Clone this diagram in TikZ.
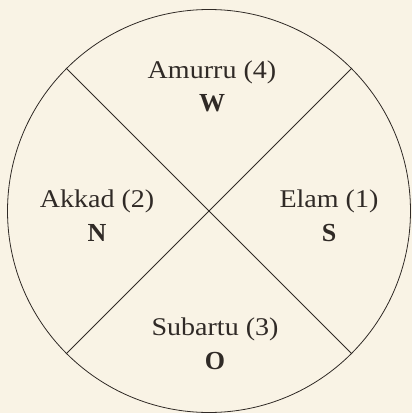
\documentclass[tikz,border=0pt]{standalone}
\usepackage{fontspec}
\setmainfont{Liberation Serif}
\newfontfamily\landfont[FakeStretch=1.1]{Liberation Serif}
\usepackage{tikz}
\usetikzlibrary{positioning}
\definecolor{paper}{RGB}{249,243,229}
\definecolor{ink}{RGB}{48,42,38}
\tikzset{
  land/.style={font=\landfont\fontsize{25.5}{30}\selectfont,text=ink,anchor=base,inner sep=0pt},
  wind/.style={font=\fontsize{26}{30}\selectfont\bfseries,text=ink,anchor=base,inner sep=0pt},
  cut/.style={draw=ink,line width=0.8pt},
}
\begin{document}
\begin{tikzpicture}[x=1pt,y=-1pt]
 \fill[paper] (0,0) rectangle (412,413);
 \useasboundingbox (0,0) rectangle (412,413);
 \node[circle,cut,minimum size=403pt,inner sep=0pt] (disc) at (209,211) {};
 \draw[cut] (disc.135) -- (disc.315);
 \draw[cut] (disc.45) -- (disc.225);
 % quarters
 \node[land] (amurru) at (212,78) {Amurru (4)};
 \node[land] (akkad) at (97,207) {Akkad (2)};
 \node[land] (elam) at (329,207) {Elam (1)};
 \node[land] (subartu) at (215,335) {Subartu (3)};
 % directions
 \node[wind] (w) at ([yshift=-33pt]amurru.base) {W};
 \node[wind] (n) at ([yshift=-34pt]akkad.base) {N};
 \node[wind] (s) at ([yshift=-34pt]elam.base) {S};
 \node[wind] (o) at ([yshift=-34pt]subartu.base) {O};
\end{tikzpicture}
\end{document}
